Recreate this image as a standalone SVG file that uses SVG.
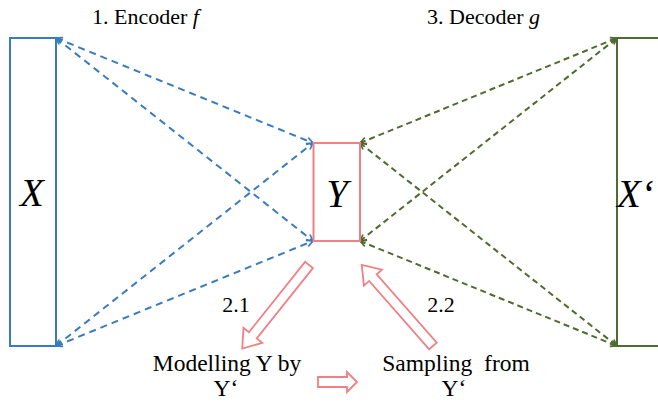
<svg xmlns="http://www.w3.org/2000/svg" width="658" height="402" viewBox="0 0 658 402">
<style>
.t{font-family:"Liberation Serif","Times New Roman",serif;font-size:22px;fill:#000}
.b{font-family:"Liberation Serif","Times New Roman",serif;font-size:23.5px;fill:#000}
.m{font-family:"Liberation Serif","Times New Roman",serif;font-style:italic;font-size:39px;fill:#000}
.blue{fill:none;stroke:#3A7BC0;stroke-width:2}
.red{fill:none;stroke:#F08084;stroke-width:2}
.green{fill:none;stroke:#4E6B30;stroke-width:2}
.bd{stroke:#3A7BC0;stroke-width:2;stroke-dasharray:7 5;fill:none;marker-start:url(#ab);marker-end:url(#ab)}
.gd{stroke:#4E6B30;stroke-width:2;stroke-dasharray:6 4;fill:none;marker-start:url(#ag);marker-end:url(#ag)}
.ha{fill:#fff;stroke:#F08084;stroke-width:1.8;stroke-linejoin:miter}
</style>
<defs>
<marker id="ab" viewBox="0 0 10 10" refX="9" refY="5" markerWidth="4" markerHeight="4" orient="auto-start-reverse" markerUnits="strokeWidth"><path d="M1,1 L9,5 L1,9" fill="none" stroke="#3A7BC0" stroke-width="2"/></marker>
<marker id="ag" viewBox="0 0 10 10" refX="9" refY="5" markerWidth="4" markerHeight="4" orient="auto-start-reverse" markerUnits="strokeWidth"><path d="M1,1 L9,5 L1,9" fill="none" stroke="#4E6B30" stroke-width="2"/></marker>
</defs>
<rect width="658" height="402" fill="#fff"/>
<g id="connectors">
<line class="bd" x1="56" y1="38" x2="313" y2="143"/>
<line class="bd" x1="56" y1="38" x2="313" y2="241"/>
<line class="bd" x1="56" y1="346" x2="313" y2="143"/>
<line class="bd" x1="56" y1="346" x2="313" y2="241"/>
<line class="gd" x1="360" y1="143" x2="617" y2="38"/>
<line class="gd" x1="360" y1="143" x2="617" y2="346"/>
<line class="gd" x1="360" y1="241" x2="617" y2="38"/>
<line class="gd" x1="360" y1="241" x2="617" y2="346"/>
</g>
<g id="nodeX">
<rect class="blue" x="10" y="38" width="46" height="308"/>
<text class="m" x="32" y="206" text-anchor="middle">X</text>
</g>
<g id="nodeY">
<rect class="red" x="313.5" y="143" width="46.5" height="98"/>
<text class="m" x="337" y="207" text-anchor="middle">Y</text>
</g>
<g id="nodeXp">
<rect class="green" x="617" y="38" width="60" height="308"/>
<text class="m" x="617" y="207">X‘</text>
</g>
<g id="titles">
<text class="t" x="92" y="24">1. Encoder <tspan font-style="italic">f</tspan></text>
<text class="t" x="427" y="24">3. Decoder <tspan font-style="italic">g</tspan></text>
</g>
<g id="arrow21">
<polygon class="ha" transform="translate(309,265) rotate(128.6)" points="0,-5 90,-5 90,-12 107,0 90,12 90,5 0,5"/>
<text class="t" x="236" y="312" text-anchor="middle">2.1</text>
</g>
<g id="arrow22">
<polygon class="ha" transform="translate(433,346) rotate(-131.3)" points="0,-5 91,-5 91,-12 108,0 91,12 91,5 0,5"/>
<text class="t" x="441" y="312" text-anchor="middle">2.2</text>
</g>
<g id="modelling">
<text class="b" x="227" y="371" text-anchor="middle">Modelling Y by</text>
<text class="b" x="226" y="396" text-anchor="middle">Y‘</text>
</g>
<g id="sampling">
<text class="b" x="456" y="371" text-anchor="middle" style="white-space:pre">Sampling  from</text>
<text class="b" x="454" y="396" text-anchor="middle">Y‘</text>
</g>
<g id="arrowSmall">
<polygon class="ha" points="318,377 347,377 347,372 357,382 347,392 347,387 318,387"/>
</g>
</svg>
